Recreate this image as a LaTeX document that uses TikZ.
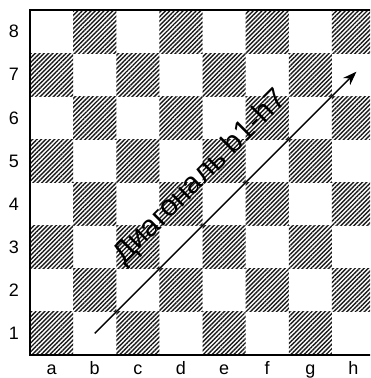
\documentclass[tikz,border=0pt]{standalone}
\usepackage{fontspec}
\setmainfont{Liberation Sans}
\usetikzlibrary{arrows.meta,patterns.meta,calc}

\begin{document}
\begin{tikzpicture}[x=1pt,y=1pt,
    hatch/.style={pattern={Lines[angle=45,distance=3.1pt,line width=1.4pt]},pattern color=black!90},
    coordlabel/.style={font=\fontsize{18}{18}\selectfont}]
    % Define the size of one square and the lower left corner of the board
    \def\sq{43.125}
    \def\ox{30}
    \def\oy{23}

    % Fix the picture size and cut off the right edge of the board
    \useasboundingbox (0,0) rectangle (370,378);
    \clip (0,0) rectangle (370,378);

    % Hatch the dark squares (a1 is dark)
    \foreach \f in {1,...,8}{
        \foreach \r in {1,...,8}{
            \pgfmathparse{int(mod(\f+\r,2))}
            \ifnum\pgfmathresult=0
                \fill[hatch] (\ox+\sq*\f-\sq, \oy+\sq*\r-\sq) rectangle ++(\sq,\sq);
            \fi
        }
    }

    % Frame of the board
    \draw[line width=1.6pt] (\ox,\oy) rectangle ++(8*\sq,8*\sq);

    % Ranks on the left, files below
    \foreach \r in {1,...,8}
        \node[coordlabel] (rank\r) at (14, \oy+\sq*\r-\sq/2) {\r};
    \foreach \f [count=\i] in {a,b,c,d,e,f,g,h}
        \node[coordlabel, anchor=base] (file\f) at (\ox+\sq*\i-\sq/2, 4) {\f};

    % The diagonal from b1 to h7
    \coordinate (b1) at (\ox+1.5*\sq, \oy+0.5*\sq);
    \coordinate (h7) at (\ox+7.5*\sq+3, \oy+6.5*\sq+3);
    \draw[-{Stealth[length=14pt,width=10pt]}, line width=1.4pt] (b1) -- (h7);

    % Label above the arrow
    \node[rotate=45, font=\fontsize{30}{30}\selectfont] (diag)
        at ($(b1)!0.5!(h7)+(-25,25)$) {Диагональ b1-h7};
\end{tikzpicture}
\end{document}
